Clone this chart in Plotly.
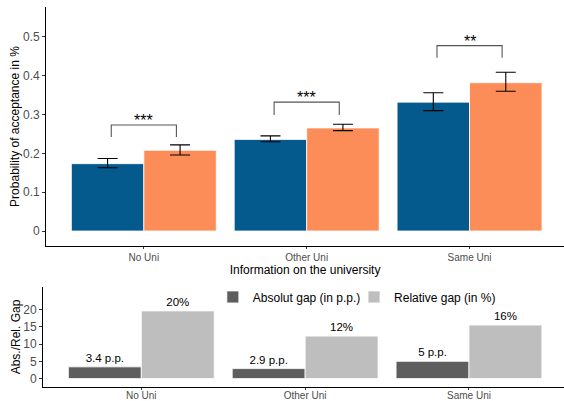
import plotly.graph_objects as go

categories = ["No Uni", "Other Uni", "Same Uni"]
control = [0.1735, 0.236, 0.332]
control_lo = [0.163, 0.230, 0.310]
control_hi = [0.187, 0.245, 0.356]
treated = [0.208, 0.2655, 0.382]
treated_lo = [0.196, 0.2585, 0.360]
treated_hi = [0.222, 0.275, 0.409]
stars = ["***", "***", "**"]
bracket_y = [0.273, 0.332, 0.4775]
bracket_leg = [0.242, 0.299, 0.4466]

abs_gap = [3.4, 2.9, 5.0]
rel_gap = [19.6, 12.3, 15.5]
abs_labels = ["3.4 p.p.", "2.9 p.p.", "5 p.p."]
rel_labels = ["20%", "12%", "16%"]

BLUE = "#045a8d"
ORANGE = "#fc8d59"
DARK = "#5e5e5e"
LIGHT = "#bebebe"
FONT = "Liberation Sans, Arial, sans-serif"

fig = go.Figure()

fig.add_trace(go.Bar(
    x=categories, y=control, marker=dict(color=BLUE, line=dict(color="white", width=0.8)),
    error_y=dict(type="data", symmetric=False,
                 array=[h - v for h, v in zip(control_hi, control)],
                 arrayminus=[v - l for v, l in zip(control, control_lo)],
                 color="black", thickness=1.1, width=10),
    showlegend=False, xaxis="x", yaxis="y", offsetgroup="a"))
fig.add_trace(go.Bar(
    x=categories, y=treated, marker=dict(color=ORANGE, line=dict(color="white", width=0.8)),
    error_y=dict(type="data", symmetric=False,
                 array=[h - v for h, v in zip(treated_hi, treated)],
                 arrayminus=[v - l for v, l in zip(treated, treated_lo)],
                 color="black", thickness=1.1, width=10),
    showlegend=False, xaxis="x", yaxis="y", offsetgroup="b"))

fig.add_trace(go.Bar(
    x=categories, y=abs_gap, name="Absolut gap (in p.p.)",
    marker=dict(color=DARK, line=dict(color="white", width=0.8)),
    text=abs_labels, textposition="outside", cliponaxis=False,
    textfont=dict(size=11.5, color="black", family=FONT),
    xaxis="x2", yaxis="y2", offsetgroup="a", legend="legend"))
fig.add_trace(go.Bar(
    x=categories, y=rel_gap, name="Relative gap (in %)",
    marker=dict(color=LIGHT, line=dict(color="white", width=0.8)),
    text=rel_labels, textposition="outside", cliponaxis=False,
    textfont=dict(size=11.5, color="black", family=FONT),
    xaxis="x2", yaxis="y2", offsetgroup="b", legend="legend2"))

shapes = []
annotations = []
for i in range(len(categories)):
    xl, xr = i - 0.2, i + 0.2
    yb, yt = bracket_leg[i], bracket_y[i]
    shapes.append(dict(type="path", xref="x", yref="y",
                       path=f"M {xl} {yb} L {xl} {yt} L {xr} {yt} L {xr} {yb}",
                       line=dict(color="#555555", width=1.1)))
    annotations.append(dict(x=i, y=yt, xref="x", yref="y", text=stars[i], showarrow=False,
                            yanchor="bottom", yshift=-6, font=dict(size=16, color="black", family=FONT)))

axis_common = dict(showline=True, linecolor="black", linewidth=1, ticks="outside",
                   ticklen=3, tickcolor="#333333", showgrid=False, zeroline=False,
                   automargin=False,
                   tickfont=dict(family=FONT, color="#4d4d4d"))

legend_common = dict(orientation="h", yanchor="middle", xanchor="left",
                     font=dict(size=12, family=FONT, color="black"),
                     bgcolor="rgba(0,0,0,0)", itemwidth=30)

fig.update_layout(
    width=564, height=401,
    margin=dict(l=43, r=0, t=7, b=14),
    paper_bgcolor="white", plot_bgcolor="white",
    barmode="group", bargap=0.11, bargroupgap=0.0,
    font=dict(family=FONT, color="black"),
    xaxis=dict(**axis_common, domain=[0.006, 1], anchor="y", range=[-0.6, 2.58],
               title=dict(text="Information on the university", font=dict(size=12, color="black"), standoff=2)),
    yaxis=dict(**axis_common, domain=[0.371, 1], anchor="x", range=[-0.0386, 0.577],
               tickvals=[0, 0.1, 0.2, 0.3, 0.4, 0.5], ticktext=["0", "0.1", "0.2", "0.3", "0.4", "0.5"],
               title=dict(text="Probability of acceptance in %", font=dict(size=12, color="black"), standoff=0)),
    xaxis2=dict(**axis_common, domain=[0, 1], anchor="y2", range=[-0.6, 2.58], ticklabelstandoff=-3),
    yaxis2=dict(**axis_common, domain=[0, 0.263], anchor="x2", range=[-2.43, 26.5],
                tickvals=[0, 5, 10, 15, 20],
                title=dict(text="Abs./Rel. Gap", font=dict(size=12, color="black"), standoff=0)),
    legend=dict(**legend_common, x=0.326, y=0.237),
    legend2=dict(**legend_common, x=0.597, y=0.237),
    shapes=shapes, annotations=annotations,
)
fig.update_xaxes(tickfont_size=10, ticklen=2)
fig.update_yaxes(tickfont_size=12)

fig.write_html("out.html", config={"displayModeBar": False},
               post_script="document.body.style.margin='0';document.body.style.overflow='hidden';")
